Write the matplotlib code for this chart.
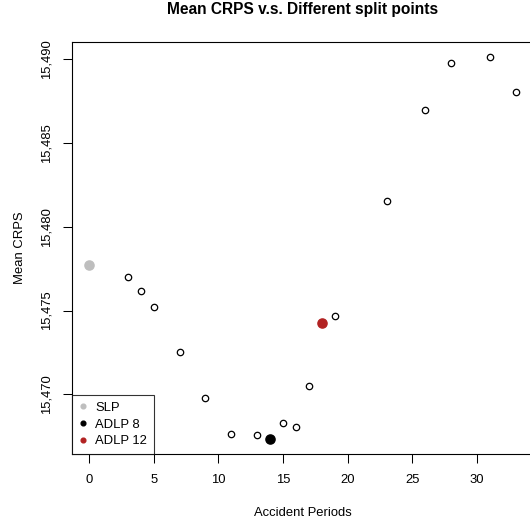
import matplotlib
matplotlib.use("Agg")
import matplotlib.pyplot as plt
from matplotlib.lines import Line2D

plt.rcParams['font.family'] = ['Liberation Sans', 'DejaVu Sans']

# Data
split_points = [3, 4, 5, 7, 9, 11, 13, 15, 16, 17, 19, 23, 26, 28, 31, 33]
mean_crps = [15.47702, 15.47615, 15.47524, 15.47254, 15.4698, 15.46762, 15.46756,
             15.46827, 15.46805, 15.47048, 15.4747, 15.48155, 15.48698, 15.48978,
             15.49012, 15.48802]
slp_x, slp_y = 0, 15.4777
adlp8_x, adlp8_y = 14, 15.46736
adlp12_x, adlp12_y = 18, 15.47427
x_ticks = [0, 5, 10, 15, 20, 25, 30]
y_ticks = [15.470, 15.475, 15.480, 15.485, 15.490]
y_tick_labels = ["15,470", "15,475", "15,480", "15,485", "15,490"]
legend_labels = ["SLP", "ADLP 8", "ADLP 12"]
legend_colors = ["#BEBEBE", "black", "#B22222"]

FS = 9.4

fig = plt.figure(figsize=(5.30, 5.23), dpi=100)
ax = fig.add_axes([72/530, 69/523, 461/530, 412/523])

ax.plot(split_points, mean_crps, 'o', mfc='white', mec='black', ms=4.6, mew=0.9, ls='none')
ax.plot([slp_x], [slp_y], 'o', color=legend_colors[0], ms=6.6, ls='none')
ax.plot([adlp8_x], [adlp8_y], 'o', color=legend_colors[1], ms=6.6, ls='none')
ax.plot([adlp12_x], [adlp12_y], 'o', color=legend_colors[2], ms=6.6, ls='none')

xmin, xmax = 0, 33
ymin, ymax = 15.46736, 15.49012
dx = (xmax - xmin) * 0.04
dy = (ymax - ymin) * 0.04
ax.set_xlim(xmin - dx, xmax + dx)
ax.set_ylim(ymin - dy, ymax + dy)

ax.set_xticks(x_ticks)
ax.set_yticks(y_ticks)
ax.set_yticklabels(y_tick_labels, rotation=90, va='center')
ax.tick_params(axis='both', direction='out', length=6.3, width=0.75, labelsize=FS, color='black')
ax.tick_params(axis='x', pad=8)
ax.tick_params(axis='y', pad=7.5)
for s in ax.spines.values():
    s.set_linewidth(0.8)
    s.set_color('black')

ax.set_title("Mean CRPS v.s. Different split points", fontsize=11.2, fontweight='bold', pad=20)
ax.set_xlabel("Accident Periods", fontsize=FS, labelpad=15)
ax.set_ylabel("Mean CRPS", fontsize=FS, labelpad=11)

handles = [Line2D([], [], marker='o', ls='none', color=c, ms=3.4) for c in legend_colors]
leg = ax.legend(handles, legend_labels, loc='lower left', bbox_to_anchor=(0, 0),
                frameon=True, fancybox=False, fontsize=FS, borderaxespad=0,
                handlelength=0.7, handletextpad=0.57, labelspacing=0.35,
                borderpad=0.5)
leg.get_frame().set_edgecolor('black')
leg.get_frame().set_linewidth(0.8)

fig.savefig("out.png", dpi=100)
